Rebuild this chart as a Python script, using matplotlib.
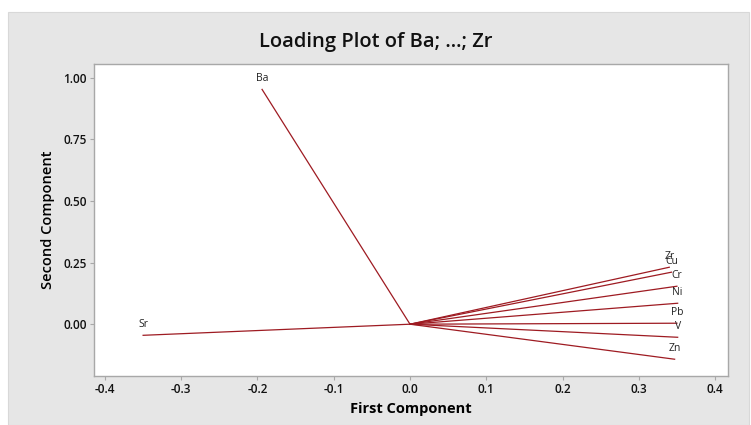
import matplotlib.pyplot as plt
from matplotlib.patches import Rectangle

# loadings
elements = ["Ba", "Sr", "Zr", "Cu", "Cr", "Ni", "Pb", "V", "Zn"]
pc1 = [-0.194, -0.350, 0.340, 0.343, 0.350, 0.351, 0.350, 0.351, 0.347]
pc2 = [0.952, -0.045, 0.231, 0.211, 0.154, 0.085, 0.004, -0.053, -0.142]

xticks = [-0.4, -0.3, -0.2, -0.1, 0.0, 0.1, 0.2, 0.3, 0.4]
yticks = [0.0, 0.25, 0.5, 0.75, 1.0]

line_col = "#9E1B22"
panel_col = "#E6E6E6"
frame_col = "#A8A8A8"

plt.rcParams['font.family'] = ['Open Sans', 'DejaVu Sans']

fig = plt.figure(figsize=(7.51, 4.25), dpi=100)
fig.patch.set_facecolor("white")
fig.patches.append(Rectangle((8 / 751, 0), 741 / 751, 1 - 12 / 425,
                             transform=fig.transFigure, facecolor=panel_col,
                             edgecolor="#D8D8D8", lw=0.8, zorder=-5))

ax = fig.add_axes([94 / 751, 1 - 376 / 425, 634 / 751, 312 / 425])
ax.set_zorder(2)
ax.set_facecolor("white")

for name, x, y in zip(elements, pc1, pc2):
    ax.plot([0, x], [0, y], color=line_col, lw=0.9)
    ax.annotate(name, xy=(x, y), xytext=(0, 4), textcoords="offset points",
                ha="center", va="bottom", fontsize=7.5, color="#222222")

ax.set_xlim(-0.4144, 0.417)
ax.set_ylim(-0.21, 1.055)
ax.set_xticks(xticks)
ax.set_xticklabels(["{:.1f}".format(t) for t in xticks])
ax.set_yticks(yticks)
ax.set_yticklabels(["{:.2f}".format(t) for t in yticks])

for s in ax.spines.values():
    s.set_color(frame_col)
    s.set_linewidth(1.0)
ax.tick_params(length=3, width=0.8, color=frame_col, labelsize=8.5,
               labelcolor="#111111", pad=2)
for lab in ax.get_xticklabels() + ax.get_yticklabels():
    lab.set_fontweight("semibold")

ax.set_xlabel("First Component", fontsize=10.5, fontweight="bold", labelpad=4)
ax.set_ylabel("Second Component", fontsize=10.5, fontweight="semibold", labelpad=6)
fig.text(0.5, 1 - 42 / 425, "Loading Plot of Ba; ...; Zr", ha="center",
         va="center", fontsize=14.5, fontweight="semibold", color="#111111")

fig.savefig("out.png", dpi=100, facecolor=fig.get_facecolor())
